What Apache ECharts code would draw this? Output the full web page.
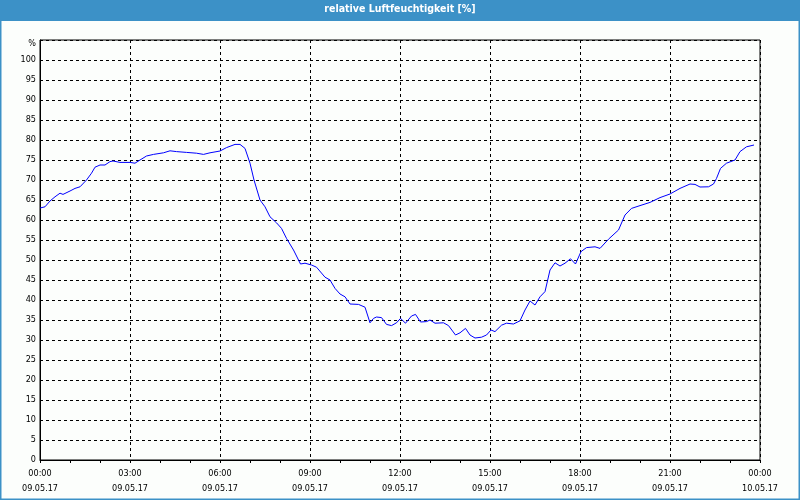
<!DOCTYPE html>
<html>
<head>
<meta charset="utf-8">
<script src="https://cdn.jsdelivr.net/npm/echarts@6/dist/echarts.min.js"></script>
<style>
html,body{margin:0;padding:0;background:#fcfefc;}
#c{width:800px;height:500px;}
</style>
</head>
<body>
<div id="c"></div>
<script>
// Time in minutes since 09.05.17 00:00
var minutes = [0,10,20,30,40,46,60,70,80,93,103,110,120,130,140,146,160,180,190,200,213,227,247,260,273,293,313,327,340,360,373,390,400,410,420,428,440,450,460,473,483,493,507,521,530,543,553,570,580,590,600,610,620,637,650,660,667,673,683,693,703,713,721,731,743,751,761,773,780,790,807,817,831,840,851,860,870,883,893,902,910,923,933,947,960,970,980,990,1000,1010,1020,1030,1040,1050,1061,1071,1082,1093,1110,1120,1137,1150,1157,1170,1183,1200,1220,1240,1260,1280,1300,1310,1320,1337,1347,1353,1361,1373,1390,1400,1413,1428];
var humidity = [63,63.3,64.75,65.8,66.7,66.4,67.25,67.9,68.3,70,71.7,73.2,73.75,73.75,74.6,74.75,74.4,74.4,74.2,75,76,76.4,76.8,77.3,77.1,76.9,76.7,76.4,76.8,77.25,78.1,78.9,78.9,77.9,74.2,70,65,63.3,60.8,59.3,57.9,55.4,52.5,49,49.2,48.75,48.2,45.7,45,42.9,41.5,40.8,39,38.9,38.2,34.3,35.4,35.75,35.6,33.9,33.6,34.3,35.4,34.2,36,36.4,34.5,34.6,35,34.2,34.3,33.6,31.25,31.8,32.9,31.25,30.5,30.7,31.25,32.5,32.1,33.7,34.2,34,34.8,37.5,39.75,38.75,40.8,42.1,47.5,49.3,48.5,49.2,50.3,49,52.1,53.1,53.3,52.9,55.2,56.7,57.5,61.25,62.9,63.6,64.4,65.6,66.5,67.9,69,68.9,68.25,68.3,69,70.4,72.9,74.2,75,77.1,78.3,78.75];
var timeLabels = ['00:00','03:00','06:00','09:00','12:00','15:00','18:00','21:00','00:00'];
var dateLabels = ['09.05.17','09.05.17','09.05.17','09.05.17','09.05.17','09.05.17','09.05.17','09.05.17','10.05.17'];
var titleText = 'relative Luftfeuchtigkeit [%]';
var unitLabel = '%';

var seriesData = minutes.map(function(m,i){return [m, humidity[i]];});
var FONT = '"DejaVu Sans Condensed", "DejaVu Sans", sans-serif';
var BLUE = '#3c91c7';

var chart = echarts.init(document.getElementById('c'), null, {renderer:'canvas'});
chart.setOption({
  animation:false,
  backgroundColor:'#fcfefc',
  graphic:[
    {type:'rect', z:-1, shape:{x:0,y:0,width:800,height:21}, style:{fill:BLUE}},
    {type:'rect', z:-1, shape:{x:0.75,y:0.75,width:798.5,height:498.5}, style:{fill:null, stroke:BLUE, lineWidth:1.5}}
  ],
  title:{
    text:titleText, left:'center', top:4, padding:0,
    textStyle:{color:'#ffffff', fontWeight:'bold', fontSize:10.5, fontFamily:FONT}
  },
  grid:{left:40,right:40,top:40,bottom:40,show:true,borderColor:'#000',borderWidth:1,backgroundColor:'transparent'},
  xAxis:{
    type:'value', min:0, max:1440, interval:180,
    axisLine:{show:true,lineStyle:{color:'#000',width:1}},
    axisTick:{show:true,inside:false,length:3,lineStyle:{color:'#000'}},
    minorTick:{show:true,splitNumber:3,length:3,lineStyle:{color:'#000'}},
    splitLine:{show:true,lineStyle:{color:'#000',type:[3,3],width:1}},
    axisLabel:{
      margin:6, color:'#000', fontSize:9, fontFamily:FONT, lineHeight:15,
      formatter:function(v){var i=Math.round(v/180);return timeLabels[i]+'\n'+dateLabels[i];}
    }
  },
  yAxis:{
    type:'value', min:0, max:105, interval:5,
    axisLine:{show:true,lineStyle:{color:'#000',width:1}},
    axisTick:{show:false},
    splitLine:{show:true,lineStyle:{color:'#000',type:[3,3],width:1}},
    axisLabel:{
      margin:4, color:'#000', fontSize:9, fontFamily:FONT,
      formatter:function(v){return v===105 ? '{p|'+unitLabel+'}' : String(v);},
      rich:{p:{fontSize:9,fontFamily:FONT,color:'#000',padding:[8,0,0,0]}}
    }
  },
  series:[{
    type:'line', data:seriesData, showSymbol:false, smooth:false,
    lineStyle:{color:'#0000ff',width:1}, itemStyle:{color:'#0000ff'}
  }]
});
</script>
</body>
</html>
